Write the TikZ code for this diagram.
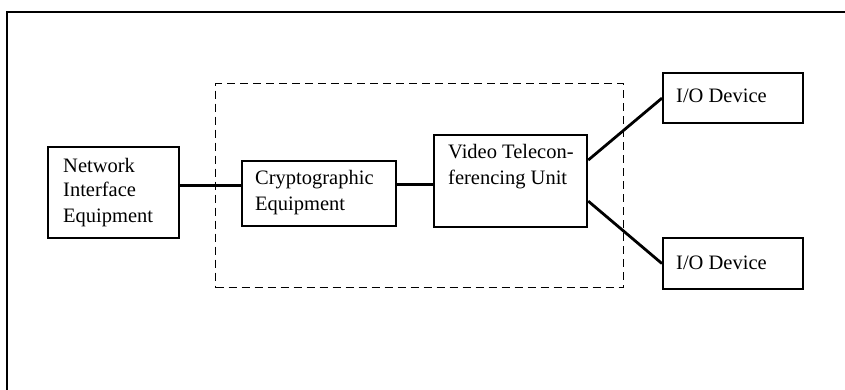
\documentclass[tikz,border=0pt]{standalone}
\usepackage{fontspec}
\setmainfont{Liberation Serif}
\begin{document}
\begin{tikzpicture}[x=1pt,y=-1pt,
  box/.style={draw,line width=2.2pt,rectangle,inner sep=0pt,anchor=north west},
  txt/.style={inner sep=0pt,anchor=base west,align=left,font=\fontsize{20.5}{25}\selectfont},
  wire/.style={line width=2.8pt},
  group/.style={draw,dash pattern=on 8pt off 5pt,line width=1.3pt,rectangle,inner sep=0pt,anchor=north west}]
\useasboundingbox (0,0) rectangle (845,390);
% outer frame (only top and left sides visible)
\draw[line width=1.8pt] (7,392) -- (7,12) -- (847,12);
% dashed grouping box
\node[group,minimum width=408pt,minimum height=204pt] (grp) at (215,83) {};
% boxes
\node[box,minimum width=131pt,minimum height=91pt] (net) at (47,146) {};
\node[box,minimum width=154pt,minimum height=65pt] (crypto) at (241,160) {};
\node[box,minimum width=153pt,minimum height=92pt] (video) at (433,134) {};
\node[box,minimum width=140pt,minimum height=50pt] (io1) at (662,72) {};
\node[box,minimum width=140pt,minimum height=51pt] (io2) at (662,237) {};
% texts (anchored at the baseline of their last line)
\node[txt] (nett) at (63,222) {Network\\Interface\\Equipment};
\node[txt] (cryptot) at (255,210) {Cryptographic\\Equipment};
\node[txt] (videot) at (448,184) {Video Telecon-\\ferencing Unit};
\node[txt] (io1t) at (676,103) {I/O Device};
\node[txt] (io2t) at (676,269) {I/O Device};
% connector end points
\coordinate (netout) at ([yshift=7.5pt]net.east);
\coordinate (cryout) at ([yshift=9.5pt]crypto.east);
\coordinate (vidup) at ([yshift=21pt]video.east);
\coordinate (viddn) at ([yshift=-20pt]video.east);
% connectors
\draw[wire] (netout) -- (netout -| crypto.west);
\draw[wire] (cryout) -- (cryout -| video.west);
\draw[wire] (vidup) -- (io1.west);
\draw[wire] (viddn) -- (io2.west);
\end{tikzpicture}
\end{document}
